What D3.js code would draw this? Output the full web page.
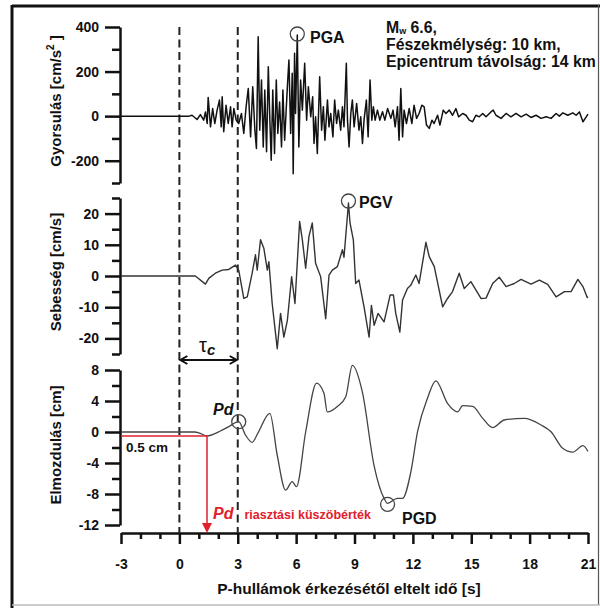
<!DOCTYPE html>
<html><head><meta charset="utf-8">
<script src="https://cdn.jsdelivr.net/npm/d3@7"></script>
<style>
body{margin:0;background:#fff;}
svg{display:block;font-family:"Liberation Sans",Arial,sans-serif;}
</style></head>
<body><svg id="c" width="600" height="608"></svg>
<script>
// ---------------- DATA ----------------
const xTicksMajor = [-3,0,3,6,9,12,15,18,21];
const xTicksMinor = [-2,-1,1,2,4,5,7,8,10,11,13,14,16,17,19,20];
const accTicksMajor = [400,200,0,-200];
const accTicksMinor = [300,100,-100,-300];
const velTicksMajor = [20,10,0,-10,-20];
const velTicksMinor = [25,15,5,-5,-15,-25];
const dispTicksMajor = [8,4,0,-4,-8,-12];
const dispTicksMinor = [6,2,-2,-6,-10];

const accTime = [-3,0.2,0.5,0.65,0.91,1.08,1.25,1.34,1.43,1.48,1.60,1.71,1.82,1.94,2.06,2.15,2.20,2.28,2.40,2.51,2.63,2.71,2.80,2.92,3.05,3.19,3.31,3.43,3.54,3.66,3.77,3.88,3.96,4.05,4.13,4.22,4.31,4.39,4.48,4.57,4.65,4.72,4.80,4.89,4.98,5.06,5.15,5.25,5.32,5.41,5.55,5.63,5.72,5.80,5.85,5.92,5.97,6.06,6.14,6.23,6.32,6.44,6.54,6.63,6.75,6.85,6.92,7.00,7.09,7.21,7.31,7.40,7.48,7.61,7.69,7.78,7.89,7.98,8.08,8.17,8.29,8.38,8.46,8.58,8.64,8.72,8.81,8.89,8.98,9.11,9.23,9.32,9.41,9.49,9.61,9.70,9.80,9.89,9.97,10.06,10.18,10.30,10.44,10.56,10.70,10.87,10.98,11.09,11.21,11.29,11.38,11.47,11.55,11.67,11.81,11.95,12.06,12.19,12.32,12.46,12.58,12.70,12.84,12.98,13.09,13.27,13.39,13.56,13.70,13.87,14.04,14.21,14.35,14.56,14.73,14.90,15.07,15.24,15.41,15.59,15.76,16.01,16.13,16.27,16.53,16.79,17.04,17.30,17.56,17.82,18.07,18.33,18.59,18.85,19.10,19.36,19.53,19.71,19.96,20.22,20.39,20.56,20.74,20.91,21.0];
const accValues = [0,0,0,4,-15,7,-18,19,-33,84,-48,34,-33,27,72,-48,87,-70,49,-33,42,-48,34,-18,-33,12,-78,42,124,-93,132,-63,-145,356,-63,162,-138,117,-160,222,-18,-198,117,-168,162,-78,64,-138,117,-108,132,252,-78,192,-258,282,12,364,-138,162,27,237,-18,132,-3,87,-123,-3,-168,177,-63,42,-108,72,-48,12,-93,72,-33,27,-63,42,-48,237,-18,-138,12,72,-48,57,-63,-3,-123,-18,72,-93,162,-18,42,-18,27,-18,20,-18,34,-10,27,-48,42,-108,124,-93,27,-33,34,-33,49,-10,12,49,42,-40,-55,-18,-33,4,-40,27,12,27,4,34,-3,12,4,-18,-25,4,-3,12,-3,19,27,4,-10,12,-3,12,-3,9,-6,4,-10,-3,-10,12,0,15,4,15,4,19,-25,-3,9];

const velTime = [-3,0,0.82,1.34,1.51,1.85,2.2,2.54,2.88,3.05,3.31,3.49,3.74,3.91,4.0,4.17,4.34,4.52,4.6,4.77,5.03,5.2,5.37,5.55,5.77,5.94,6.18,6.32,6.49,6.66,6.83,7.0,7.26,7.52,7.69,7.86,8.12,8.38,8.46,8.69,8.77,8.94,9.06,9.23,9.49,9.75,9.87,10.01,10.21,10.52,10.83,11.0,11.12,11.33,11.47,11.72,11.89,12.15,12.32,12.67,12.84,13.1,13.53,13.78,14.04,14.38,14.64,14.98,15.5,15.76,16.1,16.44,16.79,17.21,17.56,18.07,18.5,18.93,19.36,19.79,20.13,20.48,20.74,20.96,21.0];
const velValues = [0,0,0,-2.6,-0.75,0.9,1.9,2.1,3.5,1.9,-7.2,-6.7,0.9,6.8,1.9,11.6,8.9,1.9,4.6,-8.8,-23.3,-12,-19.6,-14.2,-0.2,-8.8,17.5,11.6,2.5,12.7,17,4.1,-0.2,-13.7,0.3,1.9,3,8.4,6,23.4,17,11.6,-2.4,-1.3,-9.9,-19.6,-9.4,-15.8,-12,-14.7,-6.1,-6.1,-12,-18,-7.7,-4,-3,0.3,-2.4,10.8,6.2,3,-9.9,-7.2,-5,0.9,-4,-1.8,-7.2,-7.1,-2.4,-0.4,-3.4,-2.4,-1.1,-2.6,-1.3,-2.7,-6.7,-5,-5,-1.1,-3.4,-6.9,-6.7];

const dispTime = [-3,0,0.8,1.0,1.42,2.11,2.54,3.05,3.4,3.74,4.03,4.65,5.03,5.46,5.8,6.02,6.49,7.05,7.43,7.6,8.12,8.55,8.89,9.4,10.0,10.52,10.7,11.2,11.47,11.9,12.24,12.75,13.18,13.78,14.3,14.56,15.07,15.59,16.1,16.7,17.73,18.59,19.1,19.7,20.22,20.74,21.0];
const dispValues = [0,0,0,-0.1,-0.5,0.13,0.7,1.33,-0.4,-1.33,-0.17,2.4,-3,-7.5,-6.4,-7.05,0,6.3,5.0,2.6,3.3,4.55,8.6,5.2,-4.26,-8.56,-9.2,-8.56,-8.56,-5.1,0.04,4.35,6.6,3.7,2.6,3.4,3.3,1.76,0.56,1.55,1.76,0.9,0.04,-2.1,-2.6,-1.76,-2.5];

const pgaPoint = [6.06, 364];
const pgvPoint = [8.69, 23.4];
const pdPoint = [3.05, 1.33];
const pgdPoint = [10.7, -9.2];
const thresholdTime = 1.42, thresholdValue = -0.5;

// ---------------- DRAW ----------------
const svg = d3.select("#c");
const FONT = '"Liberation Sans",Arial,sans-serif';
const fmt = d => String(d);

// frame
svg.append("rect").attr("x",0).attr("y",0).attr("width",600).attr("height",608).attr("fill","#fff");
svg.append("line").attr("x1",12).attr("x2",600).attr("y1",6).attr("y2",6).attr("stroke","#111").attr("stroke-width",3);
svg.append("line").attr("x1",12).attr("x2",12).attr("y1",5).attr("y2",608).attr("stroke","#111").attr("stroke-width",3);
svg.append("line").attr("x1",598.5).attr("x2",598.5).attr("y1",5).attr("y2",605).attr("stroke","#555").attr("stroke-width",1.2);
svg.append("line").attr("x1",12).attr("x2",600).attr("y1",605).attr("y2",605).attr("stroke","#bbb").attr("stroke-width",1.5);

const x = d3.scaleLinear().domain([-3,21]).range([121,588]);
const yA = d3.scaleLinear().domain([-300,400]).range([183,27]);
const yV = d3.scaleLinear().domain([-25,25]).range([354,198]);
const yD = d3.scaleLinear().domain([-12,8]).range([525,370]);
const axisX = 120, baseY = 533;

function styleAxis(g){
  g.selectAll("path.domain").attr("stroke","#111").attr("stroke-width",2.5);
  g.selectAll(".tick line").attr("stroke","#111").attr("stroke-width",2.5);
  g.selectAll(".tick text").attr("font-family",FONT).attr("font-weight","bold").attr("font-size",14).attr("fill","#111");
}
function yAxis(scale, major, minor){
  const g = svg.append("g").attr("transform",`translate(${axisX},0)`);
  g.call(d3.axisLeft(scale).tickValues(major).tickSize(15).tickSizeOuter(0).tickPadding(6).tickFormat(fmt));
  const gm = svg.append("g").attr("transform",`translate(${axisX},0)`);
  gm.call(d3.axisLeft(scale).tickValues(minor).tickSize(8).tickSizeOuter(0).tickFormat(""));
  gm.select("path.domain").remove();
  styleAxis(g); styleAxis(gm);
}
yAxis(yA, accTicksMajor, accTicksMinor);
yAxis(yV, velTicksMajor, velTicksMinor);
yAxis(yD, dispTicksMajor, dispTicksMinor);

const gx = svg.append("g").attr("transform",`translate(0,${baseY})`);
gx.call(d3.axisBottom(x).tickValues(xTicksMajor).tickSize(11).tickSizeOuter(0).tickPadding(15).tickFormat(fmt));
const gxm = svg.append("g").attr("transform",`translate(0,${baseY})`);
gxm.call(d3.axisBottom(x).tickValues(xTicksMinor).tickSize(6).tickSizeOuter(0).tickFormat(""));
gxm.select("path.domain").remove();
styleAxis(gx); styleAxis(gxm);

// axis titles
function ytitle(cy, parts){
  const t = svg.append("text").attr("transform",`translate(61,${cy}) rotate(-90)`)
    .attr("text-anchor","middle").attr("font-family",FONT).attr("font-weight","bold").attr("font-size",15).attr("fill","#111");
  parts(t);
}
ytitle(101, t=>{
  t.append("tspan").text("Gyorsulás [cm/s");
  t.append("tspan").attr("dy",-7).attr("font-size",10).text("2");
  t.append("tspan").attr("dy",7).text(" ]");
});
ytitle(272, t=>t.text("Sebesség [cm/s]"));
ytitle(445, t=>t.text("Elmozdulás [cm]"));
svg.append("text").attr("x",349).attr("y",594).attr("text-anchor","middle")
  .attr("font-family",FONT).attr("font-weight","bold").attr("font-size",15.5).attr("fill","#111")
  .text("P-hullámok érkezésétől eltelt idő [s]");

// dashed lines at 0 and 3 s
[0,3].forEach(t=>{
  svg.append("line").attr("x1",x(t)).attr("x2",x(t)).attr("y1",27).attr("y2",baseY)
    .attr("stroke","#222").attr("stroke-width",2).attr("stroke-dasharray","8,4.5");
});

// tau_c arrow
const ay = 360;
svg.append("line").attr("x1",x(0)+1).attr("x2",x(3)-1).attr("y1",ay).attr("y2",ay).attr("stroke","#111").attr("stroke-width",2);
svg.append("path").attr("d",`M${x(0)+8},${ay-4}L${x(0)+1},${ay}L${x(0)+8},${ay+4}`).attr("fill","none").attr("stroke","#111").attr("stroke-width",2);
svg.append("path").attr("d",`M${x(3)-8},${ay-4}L${x(3)-1},${ay}L${x(3)-8},${ay+4}`).attr("fill","none").attr("stroke","#111").attr("stroke-width",2);
const tau = svg.append("text").attr("x",199).attr("y",352).attr("font-family",FONT).attr("font-size",20).attr("fill","#111");
tau.append("tspan").text("τ");
tau.append("tspan").attr("font-size",15).attr("font-style","italic").attr("font-weight","bold").attr("dy",3).text("c");

// traces
const lineA = d3.line().x((d,i)=>x(accTime[i])).y(d=>yA(d));
svg.append("path").datum(accValues).attr("d",lineA).attr("fill","none").attr("stroke","#111").attr("stroke-width",1.5).attr("stroke-linejoin","round");
const lineV = d3.line().x((d,i)=>x(velTime[i])).y(d=>yV(d));
svg.append("path").datum(velValues).attr("d",lineV).attr("fill","none").attr("stroke","#333").attr("stroke-width",1.4).attr("stroke-linejoin","round");
const lineD = d3.line().x((d,i)=>x(dispTime[i])).y(d=>yD(d)).curve(d3.curveMonotoneX);
svg.append("path").datum(dispValues).attr("d",lineD).attr("fill","none").attr("stroke","#444").attr("stroke-width",1.3);

// red threshold
const red = "#e0202c";
svg.append("line").attr("x1",x(-3)).attr("x2",x(thresholdTime)).attr("y1",yD(thresholdValue)).attr("y2",yD(thresholdValue)).attr("stroke",red).attr("stroke-width",1.5);
svg.append("line").attr("x1",x(thresholdTime)).attr("x2",x(thresholdTime)).attr("y1",yD(thresholdValue)).attr("y2",baseY-8).attr("stroke",red).attr("stroke-width",1.5);
svg.append("path").attr("d",`M${x(thresholdTime)-5},${baseY-10}L${x(thresholdTime)+5},${baseY-10}L${x(thresholdTime)},${baseY}Z`).attr("fill",red);
svg.append("text").attr("x",126).attr("y",452).attr("font-family",FONT).attr("font-weight","bold").attr("font-size",13.5).attr("fill","#111").text("0.5 cm");
const rt = svg.append("text").attr("x",213).attr("y",519).attr("font-family",FONT).attr("font-weight","bold").attr("fill",red);
rt.append("tspan").attr("font-size",16).attr("font-style","italic").text("Pd");
rt.append("tspan").attr("font-size",12.5).attr("dx",11).text("riasztási küszöbérték");

// peak circles + labels
function peak(tx, yv, label, lx, ly, italic){
  svg.append("circle").attr("cx",x(tx)).attr("cy",yv).attr("r",7).attr("fill","none").attr("stroke","#444").attr("stroke-width",1.3);
  svg.append("text").attr("x",lx).attr("y",ly).attr("font-family",FONT).attr("font-weight","bold").attr("font-size",16)
    .attr("font-style",italic?"italic":"normal").attr("fill","#111").text(label);
}
peak(pgaPoint[0], yA(pgaPoint[1])-1, "PGA", 310, 43);
peak(pgvPoint[0], yV(pgvPoint[1])-2, "PGV", 359, 208);
peak(pdPoint[0], yD(pdPoint[1]), "Pd", 213, 415, true);
peak(pgdPoint[0], yD(pgdPoint[1])+1, "PGD", 402, 524);

// info text
const info = svg.append("text").attr("font-family",FONT).attr("font-weight","bold").attr("font-size",15.8).attr("fill","#111");
const l1 = info.append("tspan").attr("x",386).attr("y",33);
l1.append("tspan").text("M");
l1.append("tspan").attr("font-size",9).attr("dy",1).text("w");
l1.append("tspan").attr("dy",-1).text(" 6.6,");
info.append("tspan").attr("x",386).attr("y",50).text("Fészekmélység: 10 km,");
info.append("tspan").attr("x",386).attr("y",67).text("Epicentrum távolság: 14 km");
</script></body></html>
